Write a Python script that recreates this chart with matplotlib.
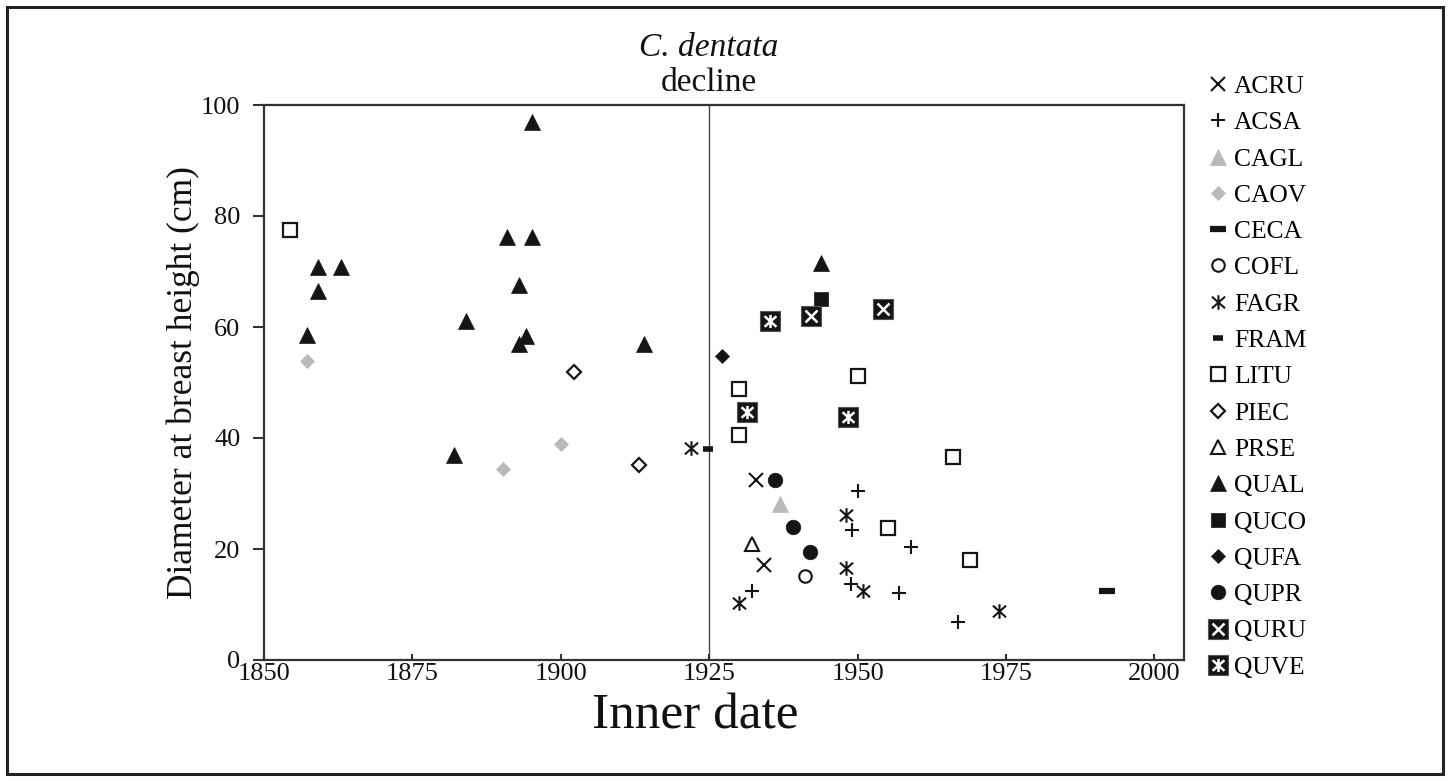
import matplotlib
matplotlib.use('Agg')
import matplotlib.pyplot as plt
from matplotlib.patches import Rectangle
from matplotlib.path import Path
from matplotlib.legend_handler import HandlerTuple

plt.rcParams['font.family'] = ['Liberation Serif', 'DejaVu Serif']

# ---------------- data (inner date, DBH cm) ----------------
species = ['ACRU', 'ACSA', 'CAGL', 'CAOV', 'CECA', 'COFL', 'FAGR', 'FRAM', 'LITU',
           'PIEC', 'PRSE', 'QUAL', 'QUCO', 'QUFA', 'QUPR', 'QURU', 'QUVE']

ACRU_x = [1932.9, 1934.2]
ACRU_y = [32.4, 17.1]
ACSA_x = [1950.0, 1949.0, 1959.0, 1948.9, 1957.0, 1932.2, 1966.9]
ACSA_y = [30.5, 23.4, 20.4, 13.7, 12.1, 12.5, 6.9]
CAGL_x = [1936.9]
CAGL_y = [28.1]
CAOV_x = [1857.2, 1890.2, 1900.0]
CAOV_y = [53.9, 34.5, 39.0]
CECA_x = [1992.1]
CECA_y = [12.5]
COFL_x = [1941.1]
COFL_y = [15.1]
FAGR_x = [1922.0, 1948.1, 1948.0, 1950.9, 1930.0, 1973.9]
FAGR_y = [38.2, 26.1, 16.6, 12.5, 10.3, 8.9]
FRAM_x = [1924.8]
FRAM_y = [38.1]
LITU_x = [1854.4, 1930.0, 1930.0, 1950.0, 1966.0, 1955.2, 1969.0]
LITU_y = [77.5, 48.8, 40.5, 51.2, 36.6, 23.7, 18.1]
PIEC_x = [1902.2, 1913.1]
PIEC_y = [51.9, 35.1]
PRSE_x = [1932.2]
PRSE_y = [20.9]
QUAL_x = [1857.2, 1859.1, 1859.1, 1863.0, 1882.0, 1884.1, 1891.0, 1895.2, 1895.2,
          1893.0, 1894.1, 1893.0, 1914.0, 1943.9]
QUAL_y = [58.6, 66.4, 70.9, 70.9, 36.9, 61.0, 76.3, 76.3, 97.0,
          67.6, 58.4, 57.0, 57.0, 71.5]
QUCO_x = [1943.9]
QUCO_y = [65.0]
QUFA_x = [1927.2]
QUFA_y = [54.8]
QUPR_x = [1936.1, 1939.1, 1942.0]
QUPR_y = [32.4, 23.9, 19.5]
QURU_x = [1942.2, 1954.3]
QURU_y = [61.9, 63.2]
QUVE_x = [1935.2, 1931.3, 1948.4]
QUVE_y = [61.0, 44.6, 43.7]

decline_year = 1925
x_ticks = [1850, 1875, 1900, 1925, 1950, 1975, 2000]
y_ticks = [0, 20, 40, 60, 80, 100]

# ---------------- styles ----------------
BLACK = '#151515'
GRAY = '#b9b9b9'
# "ж"-like asterisk: vertical stroke plus an X
AST = Path([(0, -1), (0, 1), (-0.9, -0.8), (0.9, 0.8), (-0.9, 0.8), (0.9, -0.8)],
           [Path.MOVETO, Path.LINETO] * 3)

fig = plt.figure(figsize=(14.5, 7.81), dpi=100)
ax = fig.add_axes([264 / 1450, 1 - 660 / 781, 920 / 1450, 555 / 781])

def pts(x, y, **kw):
    base = dict(linestyle='none')
    base.update(kw)
    return ax.plot(x, y, **base)[0]

handles = []
handles.append(pts(ACRU_x, ACRU_y, marker='x', ms=10, mec=BLACK, mew=1.5))
handles.append(pts(ACSA_x, ACSA_y, marker='+', ms=10.5, mec=BLACK, mew=1.5))
handles.append(pts(CAGL_x, CAGL_y, marker='^', ms=11, mfc=GRAY, mec=GRAY, mew=0.5))
handles.append(pts(CAOV_x, CAOV_y, marker='D', ms=7.5, mfc=GRAY, mec=GRAY, mew=0.5))
handles.append(pts(CECA_x, CECA_y, marker='_', ms=12, mec=BLACK, mew=4.5))
handles.append(pts(COFL_x, COFL_y, marker='o', ms=9, mfc='white', mec=BLACK, mew=1.5))
handles.append(pts(FAGR_x, FAGR_y, marker=AST, ms=10.5, mec=BLACK, mew=1.5))
handles.append(pts(FRAM_x, FRAM_y, marker='_', ms=7.5, mec=BLACK, mew=4))
handles.append(pts(LITU_x, LITU_y, marker='s', ms=9.5, mfc='white', mec=BLACK, mew=1.6))
handles.append(pts(PIEC_x, PIEC_y, marker='D', ms=7, mfc='white', mec=BLACK, mew=1.6))
handles.append(pts(PRSE_x, PRSE_y, marker='^', ms=10, mfc='white', mec=BLACK, mew=1.5))
handles.append(pts(QUAL_x, QUAL_y, marker='^', ms=11.5, mfc=BLACK, mec=BLACK, mew=0.5))
handles.append(pts(QUCO_x, QUCO_y, marker='s', ms=10.5, mfc=BLACK, mec=BLACK, mew=0.5))
handles.append(pts(QUFA_x, QUFA_y, marker='D', ms=7.5, mfc=BLACK, mec=BLACK, mew=0.5))
handles.append(pts(QUPR_x, QUPR_y, marker='o', ms=10.5, mfc=BLACK, mec=BLACK, mew=0.5))
qr_sq = pts(QURU_x, QURU_y, marker='s', ms=14, mfc=BLACK, mec='#555555', mew=0.8)
qr_x = pts(QURU_x, QURU_y, marker='x', ms=9, mec='white', mew=1.8)
handles.append((qr_sq, qr_x))
qv_sq = pts(QUVE_x, QUVE_y, marker='s', ms=14, mfc=BLACK, mec='#555555', mew=0.8)
qv_a = pts(QUVE_x, QUVE_y, marker=AST, ms=9.5, mec='white', mew=1.8)
handles.append((qv_sq, qv_a))

ax.axvline(decline_year, color='#444444', lw=1.0, zorder=0)

ax.set_xlim(1850, 2005)
ax.set_ylim(0, 100)
ax.set_xticks(x_ticks)
ax.set_yticks(y_ticks)
ax.tick_params(axis='both', labelsize=19, color='#333333', width=1.5,
               labelcolor='#111111')
ax.tick_params(axis='y', length=8, pad=9, direction='out')
ax.tick_params(axis='x', length=4, pad=2, direction='in')
for s in ax.spines.values():
    s.set_color('#333333')
    s.set_linewidth(1.6)

ax.set_xlabel('Inner date', fontsize=37, va='center', color='#111111')
ax.xaxis.set_label_coords(0.4685, -0.101)
ax.set_ylabel('Diameter at breast height (cm)', fontsize=25.5, va='center', color='#111111')
ax.yaxis.set_label_coords(-0.088, 0.5)

tr = ax.get_xaxis_transform()
ax.text(decline_year, 1.103, 'C. dentata', style='italic', fontsize=24,
        ha='center', va='center', transform=tr, color='#111111')
ax.text(decline_year, 1.040, 'decline', fontsize=24,
        ha='center', va='center', transform=tr, color='#111111')

leg = ax.legend(handles, species, loc='upper left',
                bbox_to_anchor=(1207 / 1450, 1 - 75 / 781),
                bbox_transform=fig.transFigure, frameon=False,
                fontsize=18.4, labelspacing=0.525, handlelength=0.85,
                handletextpad=0.2, borderpad=0, borderaxespad=0,
                handler_map={tuple: HandlerTuple(ndivide=1)})

fig.patches.append(Rectangle((7 / 1450, 7 / 781), 1436 / 1450, 767 / 781,
                             transform=fig.transFigure, fill=False,
                             lw=2.2, ec='#222222'))

fig.savefig('out.png', dpi=100)
